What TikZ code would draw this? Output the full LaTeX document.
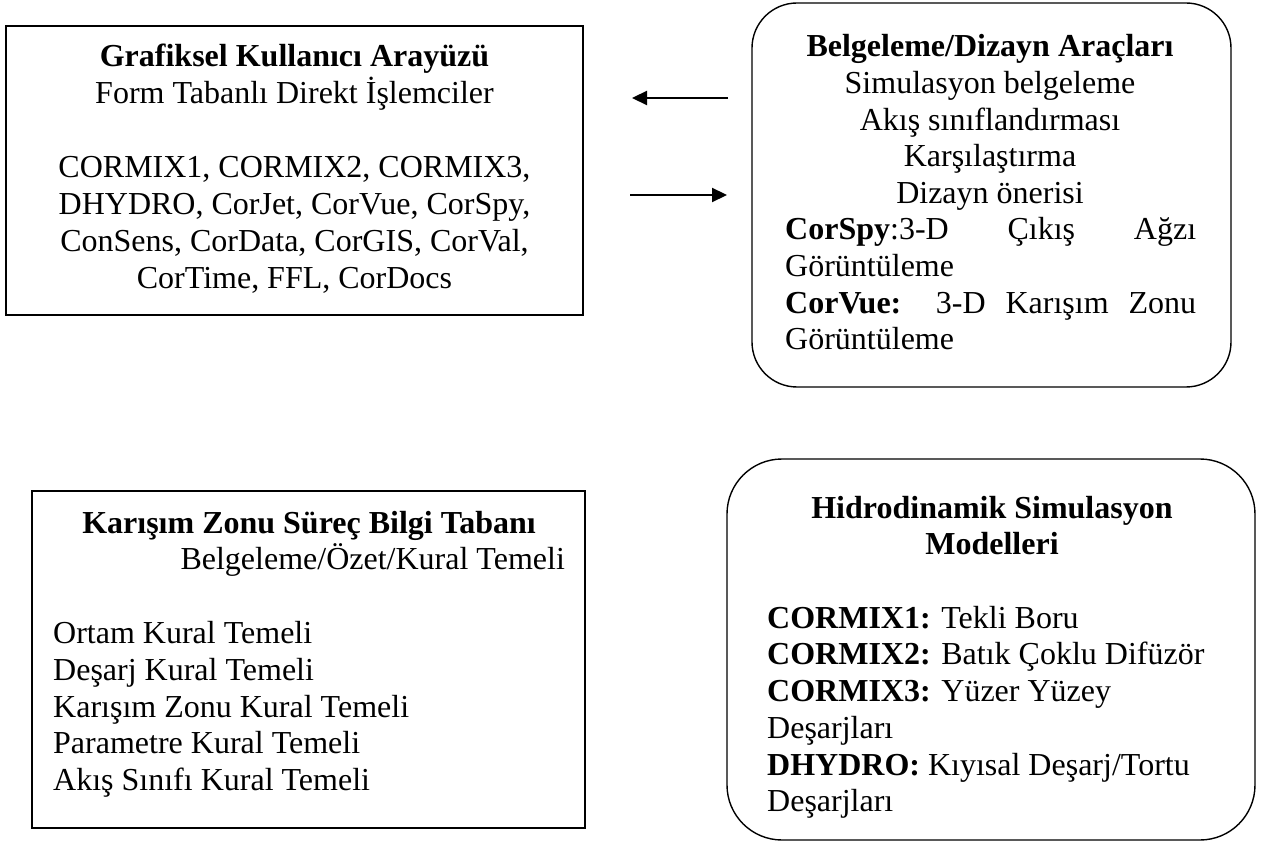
\documentclass[tikz,border=0pt]{standalone}
\usepackage{fontspec}
\setmainfont{Liberation Serif}
\usetikzlibrary{arrows.meta}
\begin{document}
\begin{tikzpicture}[x=1pt,y=-1pt,
  boxsq/.style={draw=black, line width=1.5pt, rectangle, inner sep=0pt},
  boxrd/.style={draw=black, line width=1.4pt, rectangle, inner sep=0pt},
  txt/.style={font=\fontsize{32}{37}\selectfont, inner sep=0pt, anchor=base},
  txtl/.style={txt, anchor=base west},
  txtr/.style={txt, anchor=base east},
  arr/.style={line width=2.2pt, -{Triangle[length=15pt,width=14pt]}}]
\useasboundingbox (0,0) rectangle (1262,842);

% Box 1
\node[boxsq, minimum width=577pt, minimum height=289pt] (gui) at (294.5,170.5) {};
\node[txt] (g1) at (294.5,67) {\textbf{Grafiksel Kullanıcı Arayüzü}};
\node[txt] (g2) at (294.5,104) {Form Tabanlı Direkt İşlemciler};
\node[txt] (g3) at (294.5,178) {CORMIX1, CORMIX2, CORMIX3,};
\node[txt] (g4) at (294.5,215) {DHYDRO, CorJet, CorVue, CorSpy,};
\node[txt] (g5) at (294.5,252) {ConSens, CorData, CorGIS, CorVal,};
\node[txt] (g6) at (294.5,289) {CorTime, FFL, CorDocs};

% Box 2
\node[boxrd, rounded corners=45pt, minimum width=479pt, minimum height=384pt] (doc) at (991.5,195) {};
\node[txt] (d1) at (990,57) {\textbf{Belgeleme/Dizayn Araçları}};
\node[txt] (d2) at (990,93.6) {Simulasyon belgeleme};
\node[txt] (d3) at (990,130.2) {Akış sınıflandırması};
\node[txt] (d4) at (990,166.8) {Karşılaştırma};
\node[txt] (d5) at (990,203.4) {Dizayn önerisi};
\node[txtl] (d6) at (785,240) {\makebox[411pt][s]{\textbf{CorSpy}:3-D Çıkış Ağzı}};
\node[txtl] (d7) at (785,276.6) {Görüntüleme};
\node[txtl] (d8) at (785,313.2) {\makebox[411pt][s]{\textbf{CorVue:} 3-D Karışım Zonu}};
\node[txtl] (d9) at (785,349.8) {Görüntüleme};

% Arrows
\coordinate (la1) at (728,98);
\coordinate (la2) at (632,98);
\coordinate (ra1) at (630,195);
\coordinate (ra2) at (727,195);
\draw[arr] (la1) -- (la2);
\draw[arr] (ra1) -- (ra2);

% Box 3
\node[boxsq, minimum width=553pt, minimum height=337pt] (kb) at (308.5,659.5) {};
\node[txt] (k1) at (309,533) {\textbf{Karışım Zonu Süreç Bilgi Tabanı}};
\node[txtr] (k2) at (565,569.8) {Belgeleme/Özet/Kural Temeli};
\node[txtl] (k3) at (53,643.4) {Ortam Kural Temeli};
\node[txtl] (k4) at (53,680.2) {Deşarj Kural Temeli};
\node[txtl] (k5) at (53,717) {Karışım Zonu Kural Temeli};
\node[txtl] (k6) at (53,753.8) {Parametre Kural Temeli};
\node[txtl] (k7) at (53,790.6) {Akış Sınıfı Kural Temeli};

% Box 4
\node[boxrd, rounded corners=55pt, minimum width=528pt, minimum height=381pt] (hs) at (991,649.5) {};
\node[txt] (h1) at (992,518) {\textbf{Hidrodinamik Simulasyon}};
\node[txt] (h2) at (992,554.7) {\textbf{Modelleri}};
\node[txtl] (h3) at (767,628) {\textbf{CORMIX1:} Tekli Boru};
\node[txtl] (h4) at (767,664.8) {\textbf{CORMIX2:} Batık Çoklu Difüzör};
\node[txtl] (h5) at (767,701.5) {\textbf{CORMIX3:} Yüzer Yüzey};
\node[txtl] (h6) at (767,738.2) {Deşarjları};
\node[txtl] (h7) at (767,775) {\textbf{DHYDRO:} Kıyısal Deşarj/Tortu};
\node[txtl] (h8) at (767,811.6) {Deşarjları};
\end{tikzpicture}
\end{document}
